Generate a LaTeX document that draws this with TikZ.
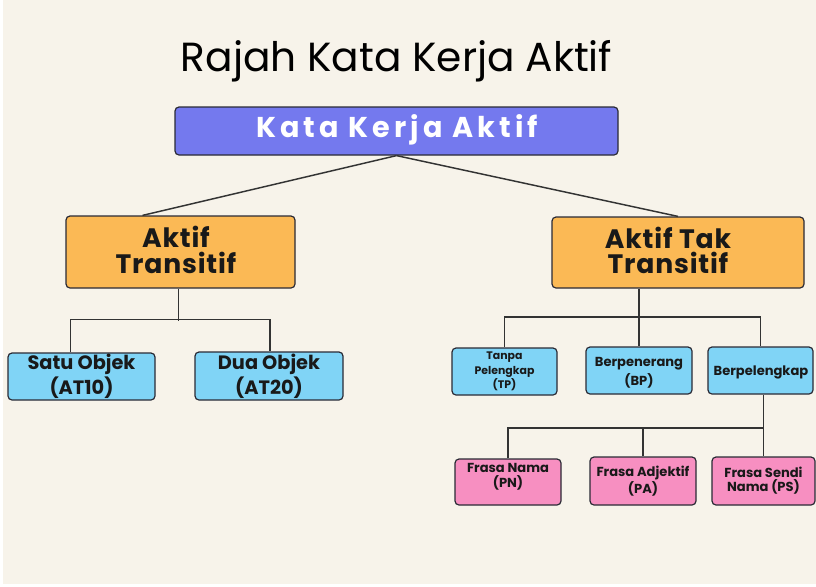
\documentclass[tikz,border=0pt]{standalone}
\usepackage{fontspec}
\setmainfont{Poppins}
\newfontfamily\popsp{Poppins}[LetterSpace=14]
\newfontfamily\popmid{Poppins}[LetterSpace=3]
\usetikzlibrary{calc}
\definecolor{bgc}{HTML}{F7F3EA}
\definecolor{topc}{HTML}{7479EE}
\definecolor{orc}{HTML}{FBB955}
\definecolor{blc}{HTML}{80D4F6}
\definecolor{pkc}{HTML}{F78FC1}
\definecolor{edgec}{HTML}{2A2A35}
\definecolor{linec}{HTML}{333333}
\begin{document}
\begin{tikzpicture}[x=0.75pt,y=-0.75pt,
  box/.style={draw=edgec,line width=0.9pt,rounded corners=3pt,align=center,inner sep=0pt,text=black!90},
  conn/.style={draw=linec,line width=1.1pt},
  big/.style={box,font=\popmid\bfseries\fontsize{20}{19}\selectfont},
  bigtext/.style={font=\popmid\bfseries\fontsize{20}{19}\selectfont,align=center,inner sep=0pt,text=black!90},
  mid/.style={box,fill=blc,font=\bfseries\fontsize{14.5}{18.5}\selectfont},
  sml/.style={box,font=\bfseries\fontsize{9.8}{10.4}\selectfont},
  smltext/.style={align=center,inner sep=0pt,text=black!90}]
\fill[white] (0,0) rectangle (816,586);
\fill[bgc] (3,0) rectangle (816,584);
\useasboundingbox (0,0) rectangle (816,586);
\node[font=\fontsize{30.5}{36}\selectfont,text=black] (title) at (396.5,61) {Rajah Kata Kerja Aktif};
\node[box,fill=topc,minimum width=443*0.75pt,minimum height=48*0.75pt,text=white] (top) at (396.5,131) {};
\node[text=white,font=\popsp\bfseries\fontsize{21.5}{24}\selectfont,inner sep=0pt] (toptext) at (397,129.5) {Kata Kerja Aktif};
\node[big,fill=orc,minimum width=229*0.75pt,minimum height=72*0.75pt] (L) at (180.5,252) {};
\node[bigtext] (Ltext) at (176,250) {Aktif\\Transitif};
\node[big,fill=orc,minimum width=252*0.75pt,minimum height=71*0.75pt] (R) at (678,252.5) {};
\node[bigtext] (Rtext) at (668,250.5) {Aktif Tak\\Transitif};
\node[mid,minimum width=147*0.75pt,minimum height=47*0.75pt] (S1) at (81.5,376.5) {Satu Objek\\(AT10)};
\node[mid,minimum width=148*0.75pt,minimum height=48*0.75pt] (S2) at (269,376) {Dua Objek\\(AT20)};
\node[box,fill=blc,minimum width=105*0.75pt,minimum height=47*0.75pt,font=\bfseries\fontsize{8.2}{11}\selectfont] (TP) at (504.5,371.5) {Tanpa\\Pelengkap\\(TP)};
\node[sml,fill=blc,minimum width=106*0.75pt,minimum height=47*0.75pt] (BP) at (639,370.5) {};
\node[smltext,font=\bfseries\fontsize{9.8}{14.2}\selectfont] (BPtext) at (639,372.5) {Berpenerang\\(BP)};
\node[sml,fill=blc,minimum width=105*0.75pt,minimum height=47*0.75pt] (BL) at (760.5,370.5) {};
\node[smltext,font=\bfseries\fontsize{9.8}{12}\selectfont] (BLtext) at (761,372) {Berpelengkap};
\node[sml,fill=pkc,minimum width=106*0.75pt,minimum height=46*0.75pt] (PN) at (508,482) {};
\node[smltext,font=\bfseries\fontsize{9.8}{11}\selectfont] (PNtext) at (508,476.5) {Frasa Nama\\(PN)};
\node[sml,fill=pkc,minimum width=106*0.75pt,minimum height=48*0.75pt] (PA) at (643,481) {Frasa Adjektif\\(PA)};
\node[sml,fill=pkc,minimum width=103*0.75pt,minimum height=48*0.75pt] (PS) at (763.5,481) {Frasa Sendi\\Nama (PS)};
% connectors
\draw[conn] (top.south) -- ($(L.north)+(-38,0)$);
\draw[conn] (top.south) -- (R.north);
\draw[conn] ($(L.south)+(-2,0)$) -- ++(0,32);
\draw[conn] ($(S1.north)+(-11,0)$) -- ++(0,-33) -| ($(S2.north)+(1,0)$);
\coordinate (rj) at (639,317);
\draw[conn] (R.south -| rj) -- (BP.north);
\draw[conn] (TP.north) |- (rj) -| (BL.north);
\coordinate (bj) at (763.5,428);
\draw[conn] (BL.south -| PS.north) -- (PS.north);
\draw[conn] (PN.north) |- (bj);
\draw[conn] (PA.north) -- (PA.north |- bj);
\end{tikzpicture}
\end{document}
